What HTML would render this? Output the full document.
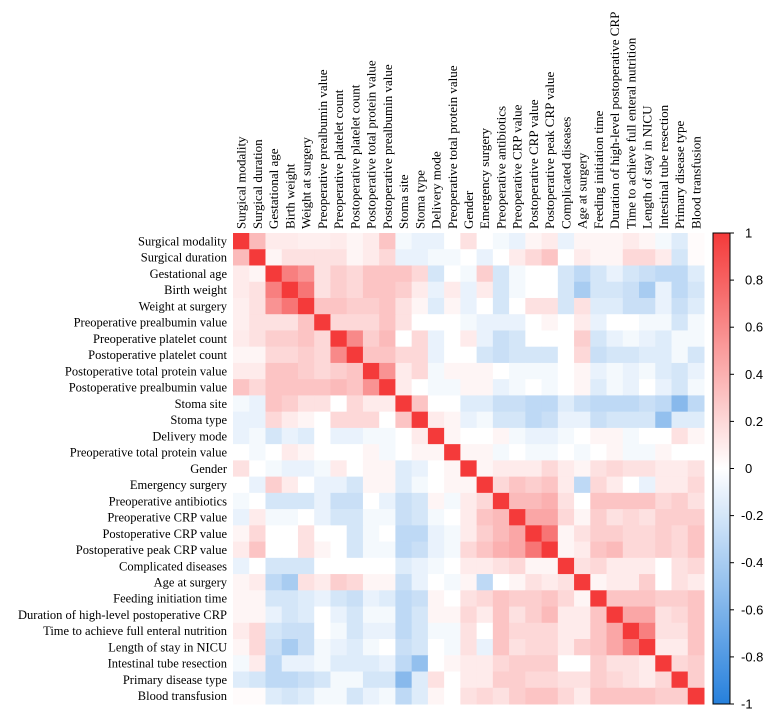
<!DOCTYPE html>
<html><head><meta charset="utf-8">
<style>
html,body{margin:0;padding:0;background:#fff;}
svg{display:block;}
</style></head>
<body>
<svg id="chart" width="767" height="713" xmlns="http://www.w3.org/2000/svg"></svg>
<script>
const labels = ["Surgical modality","Surgical duration","Gestational age","Birth weight","Weight at surgery","Preoperative prealbumin value","Preoperative platelet count","Postoperative platelet count","Postoperative total protein value","Postoperative prealbumin value","Stoma site","Stoma type","Delivery mode","Preoperative total protein value","Gender","Emergency surgery","Preoperative antibiotics","Preoperative CRP value","Postoperative CRP value","Postoperative peak CRP value","Complicated diseases","Age at surgery","Feeding initiation time","Duration of high-level postoperative CRP","Time to achieve full enteral nutrition","Length of stay in NICU","Intestinal tube resection","Primary disease type","Blood transfusion"];
const upperRows = [
[1,.35,.1,.1,.08,.08,.1,.05,.1,.3,-.05,-.1,-.1,0,.15,0,-.05,-.1,.05,.1,-.1,.05,.05,.05,.1,.05,-.05,-.15,.02],
[1,.05,.15,.15,.15,.15,.05,.1,.2,-.1,-.1,-.05,-.05,0,-.1,0,.1,.2,.3,0,.1,.05,.05,.2,.2,.1,-.2,.02],
[1,.65,.55,.15,.25,.2,.3,.3,.3,.2,-.2,0,-.05,.25,-.2,-.05,0,0,-.2,-.3,-.2,-.1,-.2,-.25,-.3,-.3,-.15],
[1,.7,.15,.25,.2,.3,.3,.25,.1,-.1,.1,-.1,.1,-.2,-.05,0,0,-.2,-.4,-.2,-.2,-.25,-.4,-.1,-.3,-.2],
[1,.3,.3,.25,.25,.3,.15,.05,-.15,.05,-.1,0,-.2,0,.15,.15,-.2,.15,-.15,-.15,-.25,-.25,-.1,-.25,-.15],
[1,.2,.2,.2,.3,.15,0,0,0,-.05,-.1,-.1,-.1,0,.05,0,.1,-.1,0,0,-.05,-.05,-.2,-.05],
[1,.6,.25,.35,0,.2,-.1,0,.1,-.1,-.25,-.2,0,0,0,.25,-.2,-.1,-.05,-.1,-.15,-.05,-.05],
[1,.3,.3,.2,.2,-.1,0,0,-.2,-.25,-.2,-.2,-.2,0,.2,-.25,-.2,-.2,-.15,-.15,-.05,-.2],
[1,.55,.1,.2,-.05,.05,.05,.05,0,-.05,-.05,-.05,0,.05,-.1,-.05,-.1,-.05,-.15,-.2,-.1],
[1,.1,0,-.05,-.05,.05,.05,-.1,-.05,0,-.05,0,.05,-.15,-.05,-.1,0,-.1,-.2,-.05],
[1,.3,0,0,-.15,-.15,-.25,-.25,-.3,-.3,-.15,-.25,-.3,-.3,-.3,-.25,-.3,-.55,-.3],
[1,.1,.05,-.1,-.05,-.2,-.2,-.3,-.25,-.1,-.1,-.25,-.2,-.2,-.2,-.5,-.15,-.15],
[1,.05,0,0,.05,-.05,-.1,-.1,-.05,0,.05,.05,-.05,0,0,.15,.05],
[1,.05,.05,-.05,0,-.05,-.05,0,-.05,0,.05,-.05,-.05,.05,0,0],
[1,.05,.1,.1,.1,.2,.1,.05,.15,.2,.15,.15,.1,.1,.15],
[1,.2,.3,.25,.3,.1,-.3,.2,.1,0,-.1,.1,.1,.2],
[1,.35,.35,.4,.15,0,.3,.3,.3,.3,.2,.25,.15],
[1,.45,.45,.2,.05,.25,.15,.2,.15,.25,.25,.25],
[1,.7,.05,.15,.25,.25,.2,.2,.25,.2,.3],
[1,.05,.1,.3,.35,.2,.2,.25,.2,.3],
[1,.15,.2,.1,.1,.1,0,.15,.2],
[1,.05,.1,.1,.25,0,.15,.1],
[1,.3,.3,.3,.25,.25,.3],
[1,.45,.45,.15,.2,.3],
[1,.65,.15,.15,.3],
[1,.1,.1,.3],
[1,.2,.25],
[1,.25],
[1]
];
const colorbarTicks = [1,0.8,0.6,0.4,0.2,0,-0.2,-0.4,-0.6,-0.8,-1];

const NS="http://www.w3.org/2000/svg";
const svg=document.getElementById('chart');
const N=labels.length;
const X0=233, Y0=233, SIZE=471;
const cell=SIZE/N;
const xPos=i=>X0+i*cell;
const yPos=i=>Y0+i*cell;
function val(i,j){ if(j>=i) return upperRows[i][j-i]; return upperRows[j][i-j]; }
function color(v){
  const red=[244,58,58], blue=[38,128,220], w=[255,255,255];
  const c=v>=0?red:blue, t=Math.min(1,Math.abs(v));
  const r=Math.round(w[0]+(c[0]-w[0])*t), g=Math.round(w[1]+(c[1]-w[1])*t), b=Math.round(w[2]+(c[2]-w[2])*t);
  return `rgb(${r},${g},${b})`;
}
function mk(tag,attrs){const e=document.createElementNS(NS,tag);for(const k in attrs)e.setAttribute(k,attrs[k]);svg.appendChild(e);return e;}

for(let i=0;i<N;i++){
  for(let j=0;j<N;j++){
    const r=mk('rect',{x:xPos(j).toFixed(2),y:yPos(i).toFixed(2),width:(cell+0.5).toFixed(2),height:(cell+0.5).toFixed(2),fill:color(val(i,j))});
    
    
  }
}
for(let i=0;i<N;i++){
  const t=mk('text',{x:227,y:(yPos(i)+cell/2+4.3).toFixed(2),'text-anchor':'end','font-family':'Liberation Serif, serif','font-size':'12.5',fill:'#000'});
  t.textContent=labels[i];
  
  
  const cx=xPos(i)+cell/2+4.5;
  const c=mk('text',{x:0,y:0,transform:`translate(${cx.toFixed(2)},229) rotate(-90)`,'font-family':'Liberation Serif, serif','font-size':'13',fill:'#000'});
  c.textContent=labels[i];
  
  
}
// colorbar
const CB_X=713, CB_W=17;
const cbY=v=>Y0+(1-v)/2*SIZE;
const defs=mk('defs',{});
const lg=document.createElementNS(NS,'linearGradient');
lg.setAttribute('id','cbgrad');lg.setAttribute('x1','0');lg.setAttribute('y1','0');lg.setAttribute('x2','0');lg.setAttribute('y2','1');
defs.appendChild(lg);
for(let k=0;k<=20;k++){const v=1-k/10;const s=document.createElementNS(NS,'stop');s.setAttribute('offset',(k/20).toFixed(3));s.setAttribute('stop-color',color(v));lg.appendChild(s);}
const cb=mk('rect',{x:CB_X,y:Y0,width:CB_W,height:SIZE,fill:'url(#cbgrad)',stroke:'#000','stroke-width':'1'});


colorbarTicks.forEach(v=>{
  const y=cbY(v);
  const tk=mk('line',{x1:CB_X+CB_W,x2:CB_X+CB_W+4,y1:y,y2:y,stroke:'#000','stroke-width':'1'});
  
  
  const tl=mk('text',{x:v<0?741:745,y:(y+4.5).toFixed(2),'font-family':'Liberation Sans, Arial, sans-serif','font-size':'13',fill:'#000'});
  tl.textContent=String(v);
  
  
});
</script>
</body></html>
